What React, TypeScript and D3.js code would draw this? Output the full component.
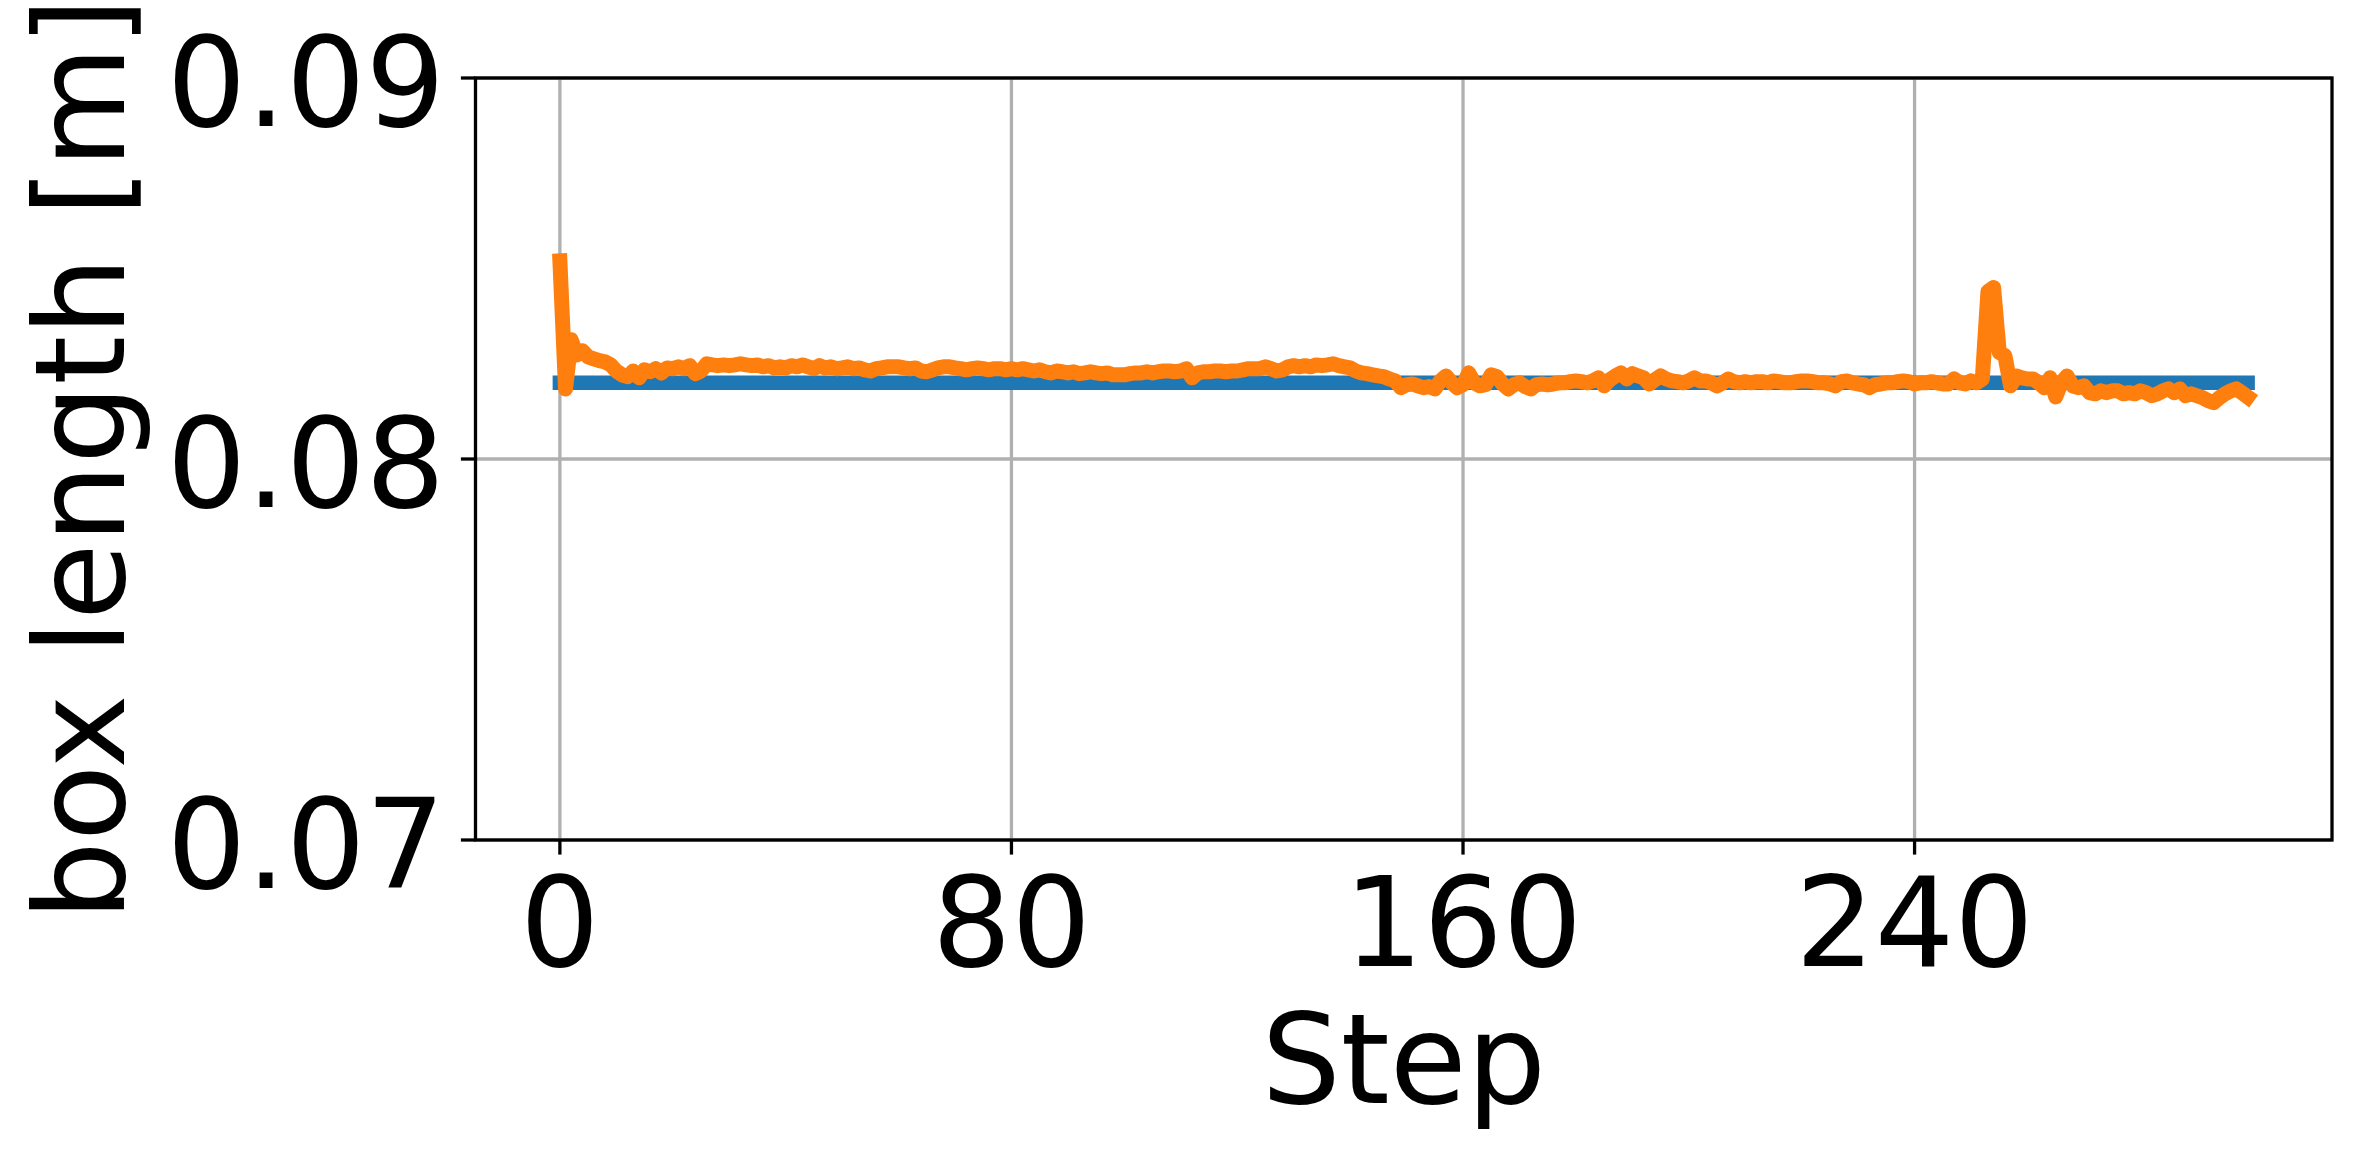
import React, { useEffect, useRef } from 'react';
import * as d3 from 'd3';

// reference box length (flat blue line)
const targetLength = 0.082;

const measuredLength = [
  0.0852, 0.08184, 0.08313, 0.08273, 0.08284, 0.08268, 0.08263, 0.08258, 0.08255, 0.08247,
  0.08231, 0.08221, 0.08216, 0.08231, 0.08213, 0.08234, 0.08229, 0.08237, 0.08226, 0.08239,
  0.08237, 0.08242, 0.08237, 0.08245, 0.08224, 0.08231, 0.0825, 0.08247, 0.08245, 0.08247,
  0.08245, 0.08247, 0.0825, 0.08247, 0.08245, 0.08247, 0.08242, 0.08245, 0.08239, 0.08242,
  0.08239, 0.08245, 0.08242, 0.08247, 0.08242, 0.08237, 0.08245, 0.08239, 0.08242, 0.08237,
  0.08239, 0.08242, 0.08237, 0.08239, 0.08234, 0.08231, 0.08237, 0.08239, 0.08242, 0.08242,
  0.08242, 0.08239, 0.08237, 0.08239, 0.08231, 0.08229, 0.08234, 0.08239, 0.08242, 0.08242,
  0.08239, 0.08237, 0.08234, 0.08237, 0.08239, 0.08237, 0.08234, 0.08237, 0.08237, 0.08234,
  0.08237, 0.08234, 0.08237, 0.08234, 0.08231, 0.08234, 0.08229, 0.08226, 0.08231, 0.08229,
  0.08226, 0.08229, 0.08224, 0.08226, 0.08229, 0.08226, 0.08224, 0.08226, 0.08221, 0.08221,
  0.08221, 0.08224, 0.08226, 0.08226, 0.08229, 0.08226, 0.08229, 0.08231, 0.08231, 0.08229,
  0.08231, 0.08237, 0.08213, 0.08226, 0.08229, 0.08229, 0.08231, 0.08231, 0.08229, 0.08231,
  0.08231, 0.08234, 0.08237, 0.08237, 0.08237, 0.08242, 0.08237, 0.08231, 0.08234, 0.08242,
  0.08245, 0.08242, 0.08245, 0.08242, 0.08247, 0.08245, 0.08247, 0.0825, 0.08245, 0.08242,
  0.08239, 0.08231, 0.08226, 0.08224, 0.08221, 0.08218, 0.08216, 0.0821, 0.08205, 0.08187,
  0.08195, 0.08197, 0.08192, 0.08187, 0.0819, 0.08184, 0.08205, 0.08218, 0.082, 0.08187,
  0.08195, 0.08226, 0.082, 0.08192, 0.08195, 0.08221, 0.08216, 0.08197, 0.08184, 0.08195,
  0.082, 0.0819, 0.08184, 0.08195, 0.08197, 0.08195, 0.08197, 0.082, 0.082, 0.08203,
  0.08205, 0.08203, 0.082, 0.08205, 0.08213, 0.08192, 0.08208, 0.08218, 0.08226, 0.0821,
  0.08224, 0.08218, 0.08213, 0.08197, 0.08208, 0.08218, 0.0821, 0.08205, 0.08203, 0.082,
  0.08205, 0.08213, 0.08205, 0.08205, 0.082, 0.08192, 0.082, 0.0821, 0.08203, 0.082,
  0.08203, 0.082, 0.08203, 0.08203, 0.082, 0.08205, 0.08203, 0.082, 0.082, 0.08203,
  0.08205, 0.08205, 0.08203, 0.082, 0.082, 0.08197, 0.08192, 0.08203, 0.08205, 0.082,
  0.08197, 0.08195, 0.08187, 0.08195, 0.08197, 0.082, 0.082, 0.08203, 0.08205, 0.08203,
  0.08197, 0.082, 0.082, 0.08203, 0.082, 0.08197, 0.08197, 0.0821, 0.082, 0.08197,
  0.08205, 0.082, 0.0821, 0.0844, 0.0845, 0.0828, 0.08271, 0.08192, 0.08218, 0.08213,
  0.0821, 0.0821, 0.082, 0.08187, 0.08213, 0.08163, 0.082, 0.08218, 0.08192, 0.08187,
  0.08192, 0.08174, 0.08171, 0.08179, 0.08174, 0.08179, 0.08179, 0.08171, 0.08174, 0.08171,
  0.08179, 0.08174, 0.08166, 0.08171, 0.08179, 0.08184, 0.08174, 0.08184, 0.08166, 0.08171,
  0.08166, 0.08161, 0.08153, 0.08148, 0.08161, 0.08171, 0.08179, 0.08184, 0.08174, 0.08163,
];

const xTicks = [0, 80, 160, 240];
const yTicks = [0.07, 0.08, 0.09];

const W = 2364;
const H = 1158;
const FONT = '"DejaVu Sans", sans-serif';
const FONT_SIZE = '125px';

const App = () => {
  const svgRef = useRef<SVGSVGElement>(null);

  useEffect(() => {
    const svg = d3.select(svgRef.current);
    svg.selectAll('*').remove();

    // plot box in page pixels
    const box = { left: 475.5, right: 2332, top: 78, bottom: 840 };
    const lw = 3.3; // spine / tick / grid width
    const tickLen = 14.6;

    const n = measuredLength.length;
    const pad = (n - 1) * 0.05;
    const x = d3.scaleLinear().domain([-pad, n - 1 + pad]).range([box.left, box.right]);
    const y = d3.scaleLinear().domain([0.07, 0.09]).range([box.bottom, box.top]);

    svg.append('defs').append('clipPath').attr('id', 'plot-clip')
      .append('rect')
      .attr('x', box.left).attr('y', box.top)
      .attr('width', box.right - box.left).attr('height', box.bottom - box.top);

    // grid
    const grid = svg.append('g').attr('stroke', '#b0b0b0').attr('stroke-width', lw);
    xTicks.forEach(t => {
      grid.append('line')
        .attr('x1', x(t)).attr('x2', x(t))
        .attr('y1', box.top).attr('y2', box.bottom);
    });
    yTicks.forEach(t => {
      grid.append('line')
        .attr('x1', box.left).attr('x2', box.right)
        .attr('y1', y(t)).attr('y2', y(t));
    });

    const plot = svg.append('g').attr('clip-path', 'url(#plot-clip)');

    // target line
    plot.append('path')
      .datum([0, n - 1])
      .attr('fill', 'none')
      .style('stroke', '#1f77b4')
      .style('stroke-width', '14.5px')
      .style('stroke-linecap', 'square')
      .attr('d', d3.line<number>().x(d => x(d)).y(() => y(targetLength)));

    // measured line
    const line = d3.line<number>()
      .x((d, i) => x(i))
      .y(d => y(d));

    plot.append('path')
      .datum(measuredLength)
      .attr('fill', 'none')
      .style('stroke', '#ff7f0e')
      .style('stroke-width', '15px')
      .style('stroke-linecap', 'square')
      .style('stroke-linejoin', 'round')
      .attr('d', line);

    // spines
    svg.append('rect')
      .attr('x', box.left).attr('y', box.top)
      .attr('width', box.right - box.left).attr('height', box.bottom - box.top)
      .attr('fill', 'none')
      .attr('stroke', '#000')
      .attr('stroke-width', lw)
      .attr('stroke-linejoin', 'miter');

    // x ticks and labels
    xTicks.forEach(t => {
      svg.append('line')
        .attr('x1', x(t)).attr('x2', x(t))
        .attr('y1', box.bottom).attr('y2', box.bottom + tickLen)
        .attr('stroke', '#000').attr('stroke-width', lw);
      svg.append('text')
        .attr('x', x(t)).attr('y', 966)
        .attr('text-anchor', 'middle')
        .style('font-family', FONT).style('font-size', FONT_SIZE)
        .text(String(t));
    });

    // y ticks and labels
    yTicks.forEach(t => {
      svg.append('line')
        .attr('x1', box.left - tickLen).attr('x2', box.left)
        .attr('y1', y(t)).attr('y2', y(t))
        .attr('stroke', '#000').attr('stroke-width', lw);
      svg.append('text')
        .attr('x', 445).attr('y', y(t) + 48)
        .attr('text-anchor', 'end')
        .style('font-family', FONT).style('font-size', FONT_SIZE)
        .text(d3.format('.2f')(t));
    });

    // axis labels
    svg.append('text')
      .attr('x', (box.left + box.right) / 2).attr('y', 1103)
      .attr('text-anchor', 'middle')
      .style('font-family', FONT).style('font-size', FONT_SIZE)
      .text('Step');

    svg.append('text')
      .attr('transform', `translate(124, ${(box.top + box.bottom) / 2}) rotate(-90)`)
      .attr('text-anchor', 'middle')
      .style('font-family', FONT).style('font-size', FONT_SIZE)
      .text('box length [m]');
  }, []);

  return (
    <svg
      ref={svgRef}
      width={W}
      height={H}
      style={{ position: 'absolute', left: 0, top: 0, background: '#fff' }}
    />
  );
};

export default App;
